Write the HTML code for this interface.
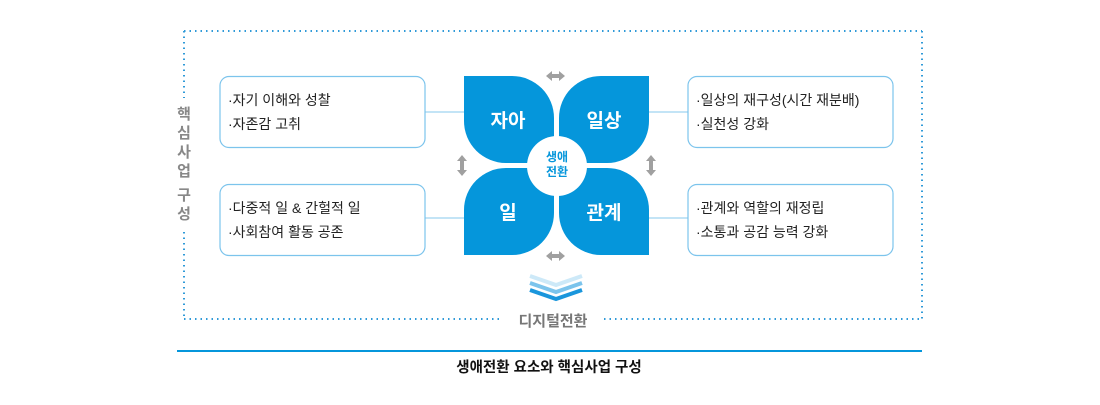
<!DOCTYPE html>
<html><head><meta charset="utf-8"><style>
body{margin:0;width:1100px;height:400px;background:#fff;overflow:hidden}
svg text{font-family:"Liberation Sans","Noto Sans CJK KR",sans-serif}
</style></head><body>
<svg width="1100" height="400" viewBox="0 0 1100 400">
<g stroke="#2f9ad8" stroke-width="2" stroke-dasharray="1.5 4" fill="none">
<line x1="184" y1="31" x2="922" y2="31"/>
<line x1="922" y1="31" x2="922" y2="319"/>
<line x1="184" y1="31" x2="184" y2="98"/>
<line x1="184" y1="232" x2="184" y2="319"/>
<line x1="184" y1="319" x2="500" y2="319"/>
<line x1="604" y1="319" x2="922" y2="319"/>
</g>
<text x="184" y="106" font-size="15" font-weight="bold" fill="#888" text-anchor="middle">
<tspan x="184" dy="13">핵</tspan><tspan x="184" dy="19">심</tspan><tspan x="184" dy="19">사</tspan><tspan x="184" dy="19">업</tspan><tspan x="184" dy="24">구</tspan><tspan x="184" dy="19">성</tspan></text>
<g stroke="#9fd3f0" stroke-width="1.2">
<line x1="425" y1="112" x2="464" y2="112"/><line x1="425" y1="218" x2="464" y2="218"/>
<line x1="649" y1="112" x2="688" y2="112"/><line x1="649" y1="218" x2="688" y2="218"/>
</g>
<g fill="#fff" stroke="#7cc4ec" stroke-width="1.2">
<rect x="220" y="76.5" width="205" height="71" rx="9"/>
<rect x="220" y="184.5" width="205" height="71" rx="9"/>
<rect x="688" y="76.5" width="205" height="71" rx="9"/>
<rect x="688" y="184.5" width="205" height="71" rx="9"/>
</g>
<g font-size="14" fill="#222">
<text x="228" y="105">·자기 이해와 성찰</text><text x="228" y="129">·자존감 고취</text>
<text x="228" y="213">·다중적 일 &amp; 간헐적 일</text><text x="228" y="237">·사회참여 활동 공존</text>
<text x="696" y="105">·일상의 재구성(시간 재분배)</text><text x="696" y="129">·실천성 강화</text>
<text x="696" y="213">·관계와 역할의 재정립</text><text x="696" y="237">·소통과 공감 능력 강화</text>
</g>
<g fill="#0596db">
<path d="M464 76 H512 A42 42 0 0 1 554 118 V163 H506 A42 42 0 0 1 464 121 Z"/>
<path d="M649 76 H601 A42 42 0 0 0 559 118 V163 H607 A42 42 0 0 0 649 121 Z"/>
<path d="M464 255 H512 A42 42 0 0 0 554 213 V168 H506 A42 42 0 0 0 464 210 Z"/>
<path d="M649 255 H601 A42 42 0 0 1 559 213 V168 H607 A42 42 0 0 1 649 210 Z"/>
</g>
<circle cx="557" cy="166" r="30" fill="#fff"/>
<text x="557" y="161" font-size="12" font-weight="bold" fill="#0596db" text-anchor="middle">생애</text>
<text x="557" y="176" font-size="12" font-weight="bold" fill="#0596db" text-anchor="middle">전환</text>
<g font-size="19" font-weight="bold" fill="#fff" text-anchor="middle">
<text x="508" y="127">자아</text><text x="604" y="127">일상</text>
<text x="508" y="219">일</text><text x="604" y="219">관계</text>
</g>
<g fill="#a0a0a0">
<path d="M546 76 l6 -5 v3 h7 v-3 l6 5 l-6 5 v-3 h-7 v3 z"/>
<path d="M546 256 l6 -5 v3 h7 v-3 l6 5 l-6 5 v-3 h-7 v3 z"/>
<path d="M462 155 l-5 6 h3 v9 h-3 l5 6 l5 -6 h-3 v-9 h3 z"/>
<path d="M651 155 l-5 6 h3 v9 h-3 l5 6 l5 -6 h-3 v-9 h3 z"/>
</g>
<g fill="none" stroke-width="4">
<path d="M530 276 L556 285 L582 276" stroke="#cde9f8"/>
<path d="M530 283 L556 292 L582 283" stroke="#7cc4ec"/>
<path d="M530 290 L556 299 L582 290" stroke="#1a96dc"/>
</g>
<text x="553" y="326" font-size="15" font-weight="bold" fill="#777" text-anchor="middle">디지털전환</text>
<line x1="177" y1="351" x2="922" y2="351" stroke="#0596db" stroke-width="2"/>
<text x="549" y="372" font-size="14.5" font-weight="bold" fill="#111" text-anchor="middle">생애전환 요소와 핵심사업 구성</text>
</svg>
</body></html>
